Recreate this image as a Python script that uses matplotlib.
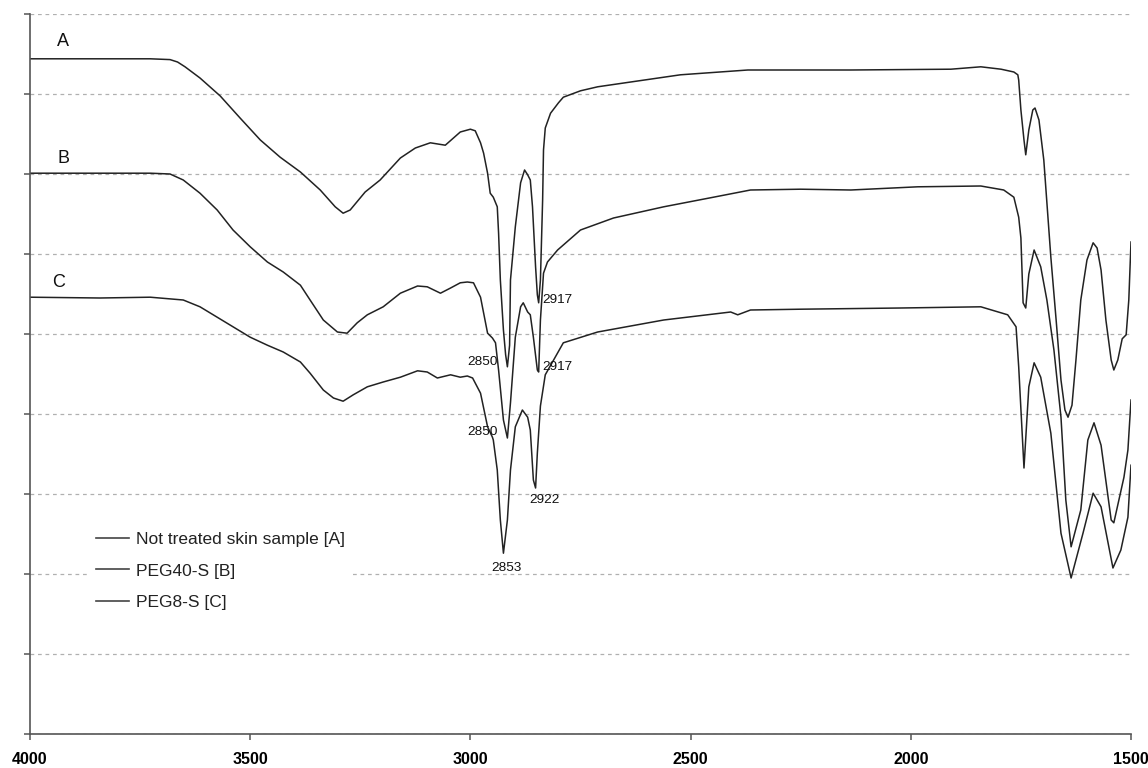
import matplotlib
matplotlib.use("Agg")
import matplotlib.pyplot as plt

plt.rcParams['font.family'] = ['Liberation Sans', 'DejaVu Sans']

# wavenumber (cm-1) and transmittance-like values
wn_a = [4000, 3841, 3727, 3682, 3665, 3648, 3614, 3568, 3523, 3477, 3432, 3386, 3341, 3307,
        3289, 3273, 3239, 3205, 3159, 3125, 3091, 3057, 3023, 3000, 2989, 2977, 2970, 2961,
        2955, 2948, 2939, 2936, 2932, 2925, 2920, 2916, 2911, 2909, 2898, 2886, 2877, 2870,
        2864, 2859, 2852, 2848, 2845, 2841, 2836, 2834, 2830, 2818, 2800, 2789, 2750, 2711,
        2636, 2523, 2370, 2136, 1909, 1841, 1795, 1766, 1757, 1755, 1750, 1743, 1739, 1732,
        1723, 1718, 1709, 1698, 1682, 1670, 1659, 1650, 1643, 1634, 1625, 1614, 1600, 1586,
        1577, 1568, 1557, 1545, 1539, 1530, 1520, 1511, 1505, 1500]
t_a = [84.4, 84.4, 84.4, 84.3, 84.0, 83.4, 82.0, 79.75, 77.0, 74.25, 72.1, 70.25, 68.0, 65.9,
       65.1, 65.5, 67.75, 69.25, 72.0, 73.25, 73.9, 73.6, 75.25, 75.6, 75.4, 73.9, 72.6, 70.1,
       67.6, 67.1, 65.9, 62.6, 56.75, 50.5, 47.4, 45.9, 48.6, 56.75, 63.4, 68.9, 70.5, 69.9,
       69.25, 65.9, 58.4, 54.9, 53.9, 56.75, 66.75, 73.0, 75.75, 77.6, 78.9, 79.6, 80.4, 80.9,
       81.5, 82.4, 83.0, 83.0, 83.1, 83.4, 83.1, 82.75, 82.4, 81.75, 78.0, 74.25, 72.4, 75.5,
       78.0, 78.25, 76.75, 71.75, 59.6, 51.75, 44.25, 40.5, 39.6, 41.1, 46.75, 54.25, 59.25,
       61.4, 60.75, 58.0, 51.75, 46.75, 45.5, 46.75, 49.4, 49.9, 54.25, 61.5]

wn_b = [4000, 3841, 3727, 3682, 3652, 3614, 3575, 3539, 3500, 3461, 3425, 3386, 3364, 3334,
        3302, 3280, 3257, 3234, 3198, 3159, 3120, 3098, 3068, 3045, 3023, 3007, 2993, 2977,
        2961, 2950, 2943, 2936, 2925, 2916, 2909, 2898, 2886, 2880, 2870, 2864, 2857, 2848,
        2845, 2841, 2834, 2825, 2802, 2750, 2675, 2561, 2448, 2364, 2250, 2136, 1984, 1841,
        1789, 1766, 1755, 1750, 1745, 1739, 1732, 1720, 1705, 1691, 1675, 1659, 1648, 1636,
        1614, 1598, 1584, 1568, 1545, 1539, 1516, 1507, 1500]
t_b = [70.1, 70.1, 70.1, 70.0, 69.25, 67.6, 65.5, 63.0, 60.9, 59.0, 57.75, 56.1, 54.25, 51.75,
       50.25, 50.1, 51.4, 52.4, 53.4, 55.1, 56.0, 55.9, 55.1, 55.75, 56.4, 56.5, 56.4, 54.6,
       50.1, 49.5, 48.9, 45.5, 39.25, 37.0, 41.4, 49.6, 53.4, 53.9, 52.75, 52.4, 49.6, 45.5,
       45.25, 51.75, 57.6, 59.0, 60.5, 63.0, 64.5, 65.9, 67.1, 68.0, 68.1, 68.0, 68.4, 68.5,
       68.0, 67.1, 64.6, 62.0, 53.9, 53.25, 57.5, 60.5, 58.4, 54.25, 48.0, 39.6, 29.25, 23.4,
       28.0, 36.75, 38.9, 36.1, 26.75, 26.4, 32.1, 35.5, 41.75]

wn_c = [4000, 3841, 3727, 3652, 3614, 3575, 3539, 3500, 3461, 3425, 3386, 3364, 3334, 3311,
        3289, 3266, 3234, 3198, 3159, 3120, 3098, 3075, 3045, 3023, 3007, 2995, 2977, 2961,
        2950, 2948, 2939, 2932, 2925, 2916, 2909, 2898, 2882, 2870, 2864, 2857, 2852, 2848,
        2841, 2830, 2789, 2711, 2561, 2409, 2393, 2364, 2250, 2023, 1841, 1780, 1761, 1755,
        1743, 1732, 1720, 1705, 1682, 1659, 1636, 1609, 1586, 1568, 1541, 1523, 1507, 1500]
t_c = [54.6, 54.5, 54.6, 54.25, 53.4, 52.1, 50.9, 49.6, 48.6, 47.75, 46.5, 45.1, 43.0, 42.0,
       41.6, 42.4, 43.4, 44.0, 44.6, 45.4, 45.25, 44.5, 44.9, 44.6, 44.75, 44.5, 42.6, 38.4,
       37.1, 36.75, 33.0, 26.75, 22.6, 26.75, 33.0, 38.4, 40.5, 39.6, 38.0, 31.75, 30.75, 35.1,
       41.0, 44.9, 48.9, 50.25, 51.75, 52.75, 52.4, 53.0, 53.1, 53.25, 53.4, 52.4, 50.9, 45.9,
       33.25, 43.4, 46.4, 44.6, 37.6, 25.1, 19.5, 25.1, 30.1, 28.4, 20.75, 23.0, 27.1, 33.6]

names = ["Not treated skin sample [A]", "PEG40-S [B]", "PEG8-S [C]"]
letters = ["A", "B", "C"]
letter_pos = [(3925, 86.5), (3925, 71.9), (3935, 56.4)]
peak_labels = ["2917", "2917", "2850", "2850", "2922", "2853"]
peak_pos = [(2836, 54.25), (2836, 45.9), (2939, 46.5), (2939, 37.75), (2832, 29.25), (2918, 20.75)]
peak_ha = ["left", "left", "right", "right", "center", "center"]

fig = plt.figure(figsize=(11.48, 7.68), dpi=100)
ax = fig.add_axes([30 / 1148, 34 / 768, 1101 / 1148, 720 / 768])

for wn, t, name in zip([wn_a, wn_b, wn_c], [t_a, t_b, t_c], names):
    ax.plot(wn, t, color='#222222', lw=1.1, label=name)

for s, (x, y) in zip(letters, letter_pos):
    ax.text(x, y, s, fontsize=13, ha='center', va='center', color='#111111')
for s, (x, y), ha in zip(peak_labels, peak_pos, peak_ha):
    ax.text(x, y, s, fontsize=9.7, ha=ha, va='center', color='#111111')

ax.set_xlim(4000, 1500)
ax.set_ylim(0, 90)
ax.set_xticks([4000, 3500, 3000, 2500, 2000, 1500])
ax.set_yticks(range(0, 91, 10))
ax.set_yticklabels([])
ax.yaxis.grid(True, color='#b0b0b0', linestyle=(0, (3, 3)), lw=0.9)
ax.set_axisbelow(True)
for side in ['top', 'right']:
    ax.spines[side].set_visible(False)
for side in ['left', 'bottom']:
    ax.spines[side].set_color('#555555')
    ax.spines[side].set_linewidth(1.2)
ax.tick_params(axis='both', direction='out', length=4, width=1.1, color='#555555')
ax.tick_params(axis='x', pad=9, labelsize=11.5)
for lab in ax.get_xticklabels():
    lab.set_fontweight('bold')

leg = ax.legend(loc='upper left', bbox_to_anchor=(0.044, 0.305), fontsize=12.5, frameon=True,
                facecolor='white', edgecolor='none', framealpha=1, handlelength=1.9,
                handletextpad=0.4, labelspacing=0.95, borderpad=0.5, fancybox=False)
for txt in leg.get_texts():
    txt.set_color('#222222')
for ln in leg.get_lines():
    ln.set_color('#444444')
    ln.set_linewidth(1.2)

fig.savefig("out.png", dpi=100)
